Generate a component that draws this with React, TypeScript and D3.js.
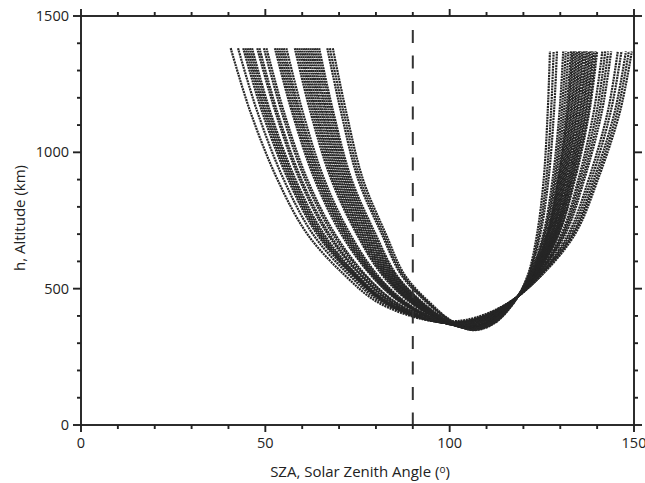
import * as d3 from "d3";

const leftAlt = [1382, 1150, 900, 700, 550, 450];
const rightAlt = [450, 550, 700, 900, 1150, 1370];

// solar zenith angle of each pass at the left-branch altitudes
const leftSza = [
  [40.6, 45.9, 53.3, 61.4, 71.5, 80.5],
  [42.6, 47.8, 55.0, 62.9, 72.7, 81.5],
  [44.0, 49.1, 56.2, 64.0, 73.5, 82.2],
  [44.6, 49.7, 56.7, 64.5, 73.9, 82.5],
  [45.2, 50.2, 57.2, 64.9, 74.2, 82.8],
  [45.8, 50.8, 57.7, 65.4, 74.6, 83.1],
  [46.4, 51.3, 58.2, 65.9, 74.9, 83.4],
  [47.8, 52.7, 59.3, 66.9, 75.7, 84.1],
  [48.4, 53.2, 59.8, 67.4, 76.1, 84.4],
  [49.6, 54.4, 60.8, 68.3, 76.8, 85.1],
  [50.3, 55.0, 61.4, 68.9, 77.2, 85.4],
  [52.6, 57.2, 63.4, 70.6, 78.6, 86.6],
  [53.2, 57.7, 63.9, 71.1, 78.9, 86.9],
  [53.8, 58.3, 64.4, 71.6, 79.3, 87.2],
  [54.4, 58.9, 64.9, 72.0, 79.6, 87.5],
  [55.0, 59.4, 65.4, 72.5, 80.0, 87.8],
  [55.7, 60.1, 66.0, 73.0, 80.4, 88.1],
  [58.0, 62.2, 67.9, 74.8, 81.7, 89.3],
  [58.6, 62.8, 68.4, 75.2, 82.1, 89.6],
  [59.2, 63.4, 68.9, 75.7, 82.5, 89.9],
  [59.8, 63.9, 69.4, 76.2, 82.8, 90.2],
  [60.4, 64.5, 69.9, 76.6, 83.2, 90.5],
  [61.0, 65.1, 70.4, 77.1, 83.5, 90.8],
  [61.6, 65.6, 70.9, 77.6, 83.9, 91.1],
  [62.2, 66.2, 71.4, 78.0, 84.2, 91.4],
  [62.8, 66.7, 71.9, 78.5, 84.6, 91.7],
  [63.4, 67.3, 72.4, 78.9, 84.9, 92.0],
  [64.0, 67.9, 72.9, 79.4, 85.3, 92.3],
  [64.6, 68.4, 73.4, 79.9, 85.6, 92.6],
  [66.8, 70.5, 75.2, 81.6, 86.9, 93.7],
  [67.5, 71.2, 75.8, 82.1, 87.3, 94.1],
  [68.3, 71.9, 76.5, 82.7, 87.8, 94.5],
];

// bottom of each pass: sza and altitude of three points around perigee
const troughSza = [
  [93.0, 100.5, 107.0],
  [93.5, 100.9, 107.4],
  [93.9, 101.2, 107.6],
  [94.1, 101.3, 107.7],
  [94.3, 101.5, 107.8],
  [94.4, 101.6, 107.9],
  [94.6, 101.7, 108.0],
  [95.0, 102.0, 108.3],
  [95.1, 102.1, 108.4],
  [95.5, 102.4, 108.6],
  [95.7, 102.5, 108.8],
  [96.3, 103.0, 109.2],
  [96.5, 103.1, 109.3],
  [96.6, 103.3, 109.4],
  [96.8, 103.4, 109.5],
  [97.0, 103.5, 109.6],
  [97.1, 103.7, 109.7],
  [97.8, 104.1, 110.1],
  [97.9, 104.3, 110.3],
  [98.1, 104.4, 110.4],
  [98.3, 104.5, 110.5],
  [98.4, 104.6, 110.6],
  [98.6, 104.8, 110.7],
  [98.8, 104.9, 110.8],
  [98.9, 105.0, 110.9],
  [99.1, 105.1, 111.0],
  [99.3, 105.3, 111.1],
  [99.4, 105.4, 111.2],
  [99.6, 105.5, 111.3],
  [100.2, 106.0, 111.7],
  [100.4, 106.1, 111.9],
  [100.6, 106.3, 112.0],
];
const troughAlt = [
  [387, 380, 394],
  [387, 378, 392],
  [386, 376, 391],
  [386, 375, 391],
  [386, 375, 390],
  [386, 374, 390],
  [386, 373, 389],
  [385, 372, 388],
  [385, 371, 388],
  [385, 370, 387],
  [385, 369, 386],
  [384, 366, 384],
  [384, 365, 384],
  [384, 365, 384],
  [384, 364, 383],
  [384, 363, 383],
  [384, 363, 382],
  [383, 360, 380],
  [383, 359, 380],
  [383, 358, 379],
  [383, 358, 379],
  [383, 357, 378],
  [383, 356, 378],
  [382, 356, 377],
  [382, 355, 377],
  [382, 354, 376],
  [382, 354, 376],
  [382, 353, 375],
  [382, 352, 375],
  [381, 350, 373],
  [381, 349, 373],
  [381, 348, 372],
];

// solar zenith angle of each pass at the right-branch altitudes
const rightSza = [
  [116.2, 125.0, 134.0, 140.2, 146.2, 149.4],
  [116.2, 124.9, 133.6, 139.7, 145.5, 148.6],
  [116.3, 124.7, 133.3, 139.1, 144.8, 147.8],
  [116.4, 124.5, 132.7, 138.4, 143.7, 146.6],
  [116.4, 124.4, 132.2, 137.7, 142.9, 145.6],
  [116.5, 124.0, 131.4, 136.5, 141.3, 143.8],
  [116.6, 123.9, 131.0, 136.0, 140.6, 143.0],
  [116.6, 123.8, 130.7, 135.4, 139.9, 142.2],
  [116.7, 123.6, 130.3, 134.9, 139.1, 141.4],
  [116.8, 123.4, 129.6, 134.0, 137.9, 140.0],
  [116.8, 123.3, 129.5, 133.7, 137.6, 139.6],
  [116.8, 123.2, 129.2, 133.4, 137.1, 139.1],
  [116.8, 123.2, 129.0, 133.1, 136.8, 138.7],
  [116.9, 123.1, 128.8, 132.8, 136.3, 138.2],
  [116.9, 123.0, 128.6, 132.5, 136.0, 137.8],
  [116.9, 122.9, 128.4, 132.2, 135.5, 137.3],
  [116.9, 122.9, 128.2, 131.9, 135.2, 136.9],
  [117.0, 122.8, 128.0, 131.6, 134.7, 136.4],
  [117.0, 122.7, 127.8, 131.3, 134.4, 136.0],
  [117.0, 122.6, 127.6, 131.0, 133.9, 135.5],
  [117.0, 122.6, 127.4, 130.7, 133.6, 135.1],
  [117.1, 122.5, 127.1, 130.4, 133.1, 134.6],
  [117.1, 122.4, 126.9, 130.1, 132.8, 134.2],
  [117.1, 122.3, 126.7, 129.8, 132.3, 133.7],
  [117.1, 122.2, 126.5, 129.5, 132.0, 133.3],
  [117.2, 122.2, 126.4, 129.3, 131.6, 132.9],
  [117.2, 122.1, 126.0, 128.8, 131.0, 132.2],
  [117.3, 121.9, 125.7, 128.4, 130.4, 131.5],
  [117.3, 121.8, 125.4, 127.9, 129.8, 130.8],
  [117.4, 121.5, 124.6, 126.8, 128.3, 129.1],
  [117.4, 121.4, 124.2, 126.2, 127.5, 128.2],
  [117.5, 121.2, 123.7, 125.5, 126.6, 127.2],
];

const xLabels = [0, 50, 100, 150];
const yLabels = [0, 500, 1000, 1500];
const terminator = 90;

const W = 645;
const H = 483;
const font = "'Open Sans', sans-serif";
const ink = "#262626";

export default function App() {
  const x = d3.scaleLinear().domain([0, 150]).range([81, 634]);
  const y = d3.scaleLinear().domain([0, 1500]).range([425, 16]);

  const line = d3
    .line<number[]>()
    .x((d) => x(d[0]))
    .y((d) => y(d[1]))
    .curve(d3.curveCatmullRom.alpha(0.5));

  const passes = leftSza.map((ls, i) => [
    ...ls.map((s, j) => [s, leftAlt[j]]),
    ...troughSza[i].map((s, j) => [s, troughAlt[i][j]]),
    ...rightSza[i].map((s, j) => [s, rightAlt[j]]),
  ]);

  const [x0, x1] = x.range();
  const [y0, y1] = y.range();
  const xt = x.ticks(15);
  const yt = y.ticks(15);

  return (
    <svg width={W} height={H} style={{ position: "fixed", left: 0, top: 0, background: "#fff" }}>
      {/* passes */}
      <g fill="none" stroke={ink} strokeWidth={2.2} strokeDasharray="2 0.8">
        {passes.map((p, i) => (
          <path key={i} d={line(p) ?? ""} />
        ))}
      </g>

      {/* terminator */}
      <line
        x1={x(terminator)}
        x2={x(terminator)}
        y1={30}
        y2={y0}
        stroke="#333"
        strokeWidth={2}
        strokeDasharray="13 12.5"
      />

      {/* frame + ticks */}
      <g stroke="#222" strokeWidth={1.9}>
        <rect x={x0} y={y1} width={x1 - x0} height={y0 - y1} fill="none" />
        {xt.map((t) => {
          const len = t % 50 === 0 ? 7 : 4;
          return (
            <g key={"x" + t}>
              <line x1={x(t)} x2={x(t)} y1={y0} y2={y0 + len} />
              <line x1={x(t)} x2={x(t)} y1={y1} y2={y1 - len} />
            </g>
          );
        })}
        {yt.map((t) => {
          const len = t % 500 === 0 ? 8 : 4;
          return (
            <g key={"y" + t}>
              <line x1={x0} x2={x0 - len} y1={y(t)} y2={y(t)} />
              <line x1={x1} x2={x1 + len} y1={y(t)} y2={y(t)} />
            </g>
          );
        })}
      </g>

      <g fontFamily={font} fontSize={14.5} fill="#222">
        {xLabels.map((t) => (
          <text key={t} x={x(t)} y={448} textAnchor="middle">
            {t}
          </text>
        ))}
        {yLabels.map((t) => (
          <text key={t} x={69} y={y(t)} dy="0.35em" textAnchor="end">
            {t}
          </text>
        ))}
        <text x={360} y={477} textAnchor="middle" fontSize={15}>
          SZA, Solar Zenith Angle (
          <tspan fontSize={10} dy={-4}>o</tspan>
          <tspan dy={4}>)</tspan>
        </text>
        <text transform="translate(25,218) rotate(-90)" textAnchor="middle" fontSize={15}>
          h, Altitude (km)
        </text>
      </g>
    </svg>
  );
}
